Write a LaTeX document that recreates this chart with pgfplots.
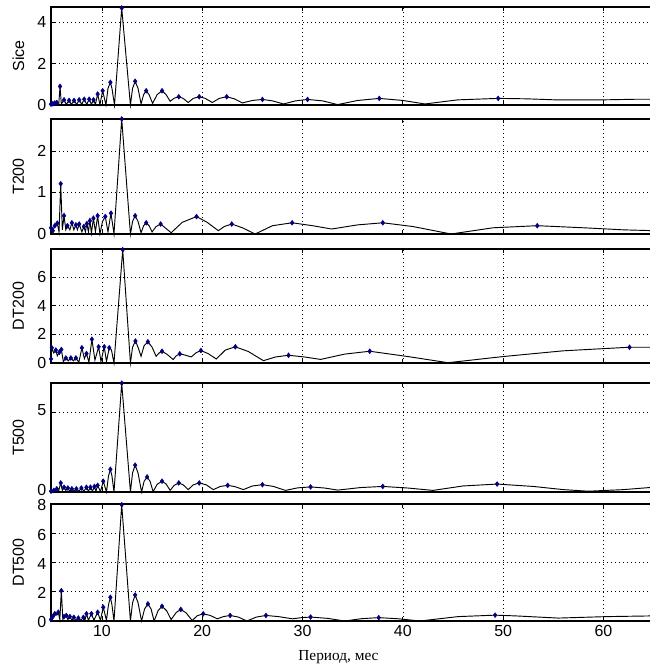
\documentclass[border=0pt]{standalone}
\usepackage{fontspec}
\setmainfont{Liberation Sans}
\newfontfamily\serifrm{Liberation Serif}
\usepackage{pgfplots}
\pgfplotsset{compat=1.18}
\definecolor{mkblue}{RGB}{0,0,128}

\pgfplotsset{
  panel/.style={
    scale only axis,
    width=451.95pt,
    xmin=4.92, xmax=65,
    ymin=0,
    xtick={10,20,30,40,50,60},
    tick align=inside,
    ticklabel style={font=\fontsize{12}{13}\selectfont},
    /pgf/number format/assume math mode=true,
    major tick length=3pt,
    grid=major,
    grid style={black, line width=0.5pt, dash pattern=on 0.6pt off 2.4pt},
    axis line style={line width=0.8pt},
    every tick/.style={black, line width=0.6pt},
    ylabel style={at={(axis description cs:-0.054,0.5)}, anchor=center,
      font=\fontsize{12}{13}\selectfont},
    clip=false,
  },
  curve/.style={black, line width=0.7pt, mark=none},
  peaks/.style={only marks, mark=diamond*, mark size=1.8pt, color=mkblue},
}

\begin{document}
\begin{tikzpicture}

% Sice
\begin{axis}[panel, at={(38.25pt,423pt)}, height=73.5pt,
  ymax=4.75, ytick={0,2,4}, xticklabels={}, ylabel={Sice}]
\addplot[curve] coordinates {
(4.92,0.04)(5.1,0.06)(5.3,0.1)(5.5,0.12)(5.7,0.08)(5.82,0.9)(5.95,0.05)(6.22,0.25)(6.45,0.03)
(6.72,0.22)(6.95,0.03)(7.22,0.22)(7.48,0.03)(7.73,0.25)(7.98,0.03)(8.23,0.28)(8.48,0.03)
(8.73,0.28)(8.95,0.03)(9.16,0.25)(9.35,0.03)(9.57,0.53)(9.8,0.02)(10.07,0.69)(10.4,0)
(10.6,0.8)(10.84,1.1)(11.0,0.8)(11.25,0)(11.97,4.7)(12.84,0)(13.05,0.8)(13.31,1.15)(13.6,0.8)
(13.9,0.05)(14.15,0.5)(14.41,0.69)(14.7,0.5)(15.05,0.08)(15.5,0.5)(15.99,0.69)(16.4,0.5)
(16.8,0.18)(17.2,0.33)(17.66,0.4)(18.1,0.32)(18.6,0.12)(19.1,0.32)(19.7,0.4)(20.3,0.32)
(21.0,0.12)(21.7,0.32)(22.44,0.4)(23.2,0.3)(24.0,0.1)(25.0,0.22)(26.0,0.27)(27.0,0.2)
(28.1,0.05)(29.3,0.2)(30.5,0.27)(32.0,0.2)(33.5,0.02)(35.5,0.22)(37.65,0.32)(40,0.22)
(42.2,0.05)(45.5,0.25)(49.5,0.32)(52.3,0.3)(55.2,0.25)(60.0,0.25)(63.4,0.28)(65,0.28)
};
\addplot[peaks] coordinates {
(4.92,0.04)(5.1,0.06)(5.3,0.1)(5.5,0.12)(5.82,0.9)(6.22,0.25)(6.72,0.22)(7.22,0.22)(7.73,0.25)
(8.23,0.28)(8.73,0.28)(9.16,0.25)(9.57,0.53)(10.07,0.69)(10.84,1.1)(11.97,4.7)(13.31,1.15)
(14.41,0.69)(15.99,0.69)(17.66,0.4)(19.7,0.4)(22.44,0.4)(26.0,0.27)(30.5,0.27)(37.65,0.32)(49.5,0.32)
};
\end{axis}

% T200
\begin{axis}[panel, at={(38.25pt,326.25pt)}, height=86.25pt,
  ymax=2.77, ytick={0,1,2}, xticklabels={}, ylabel={T200}]
\addplot[curve] coordinates {
(4.92,0.15)(5.1,0.08)(5.3,0.2)(5.55,0.26)(5.72,0.05)(5.89,1.21)(6.05,0.1)(6.22,0.44)(6.4,0.1)
(6.56,0.2)(6.8,0.1)(7.0,0.27)(7.2,0.1)(7.4,0.22)(7.55,0.1)(7.73,0.24)(8.0,0.05)(8.2,0.18)
(8.35,0.05)(8.5,0.25)(8.65,0.05)(8.8,0.32)(8.95,0.02)(9.15,0.38)(9.35,0.05)(9.57,0.44)(9.8,0)
(10.05,0.3)(10.33,0.42)(10.6,0.05)(10.9,0.5)(11.2,0)(11.97,2.77)(12.84,0)(13.05,0.3)(13.31,0.44)
(13.6,0.3)(13.9,0.03)(14.15,0.2)(14.41,0.27)(14.7,0.2)(15.0,0.05)(15.4,0.18)(15.85,0.24)
(16.3,0.15)(16.9,0.03)(18.0,0.28)(19.43,0.42)(20.5,0.28)(21.6,0.08)(22.2,0.18)(22.94,0.24)
(24.0,0.15)(25.28,0)(27.0,0.2)(28.96,0.27)(31.0,0.2)(32.9,0.12)(35.5,0.22)(38.0,0.27)
(41.0,0.18)(44.8,0)(49,0.15)(53.4,0.2)(58,0.15)(62,0.1)(65,0.08)
};
\addplot[peaks] coordinates {
(4.92,0.15)(5.1,0.08)(5.3,0.2)(5.55,0.26)(5.89,1.21)(6.22,0.44)(6.56,0.2)(7.0,0.27)(7.4,0.22)
(7.73,0.24)(8.2,0.18)(8.5,0.25)(8.8,0.32)(9.15,0.38)(9.57,0.44)(10.33,0.42)(10.9,0.5)(11.97,2.77)
(13.31,0.44)(14.41,0.27)(15.85,0.24)(19.43,0.42)(22.94,0.24)(28.96,0.27)(38.0,0.27)(53.4,0.2)
};
\end{axis}

% DT200
\begin{axis}[panel, at={(38.25pt,229.5pt)}, height=85.5pt,
  ymax=7.95, ytick={0,2,4,6}, xticklabels={}, ylabel={DT200}]
\addplot[curve] coordinates {
(4.92,0.28)(5.0,1.06)(5.2,0.7)(5.4,0.9)(5.55,0.5)(5.75,0.75)(5.95,0.94)(6.15,0.1)(6.4,0.35)
(6.65,0.15)(6.9,0.35)(7.15,0.15)(7.4,0.35)(7.7,0.05)(8.0,1.06)(8.25,0.3)(8.46,0.66)(8.7,0.05)
(9.0,1.65)(9.3,0.2)(9.67,1.13)(9.9,0.1)(10.23,1.13)(10.45,0.1)(10.73,1.06)(10.95,0.9)(11.2,0)
(12.07,7.9)(12.84,0)(13.05,1.1)(13.34,1.53)(13.6,1.1)(13.9,0.47)(14.2,1.2)(14.58,1.48)(15.0,1.1)
(15.4,0.47)(15.7,0.7)(15.99,0.82)(16.5,0.6)(17.1,0.24)(17.4,0.5)(17.76,0.64)(18.3,0.55)
(18.9,0.42)(19.4,0.72)(19.87,0.87)(20.6,0.65)(21.4,0.28)(22.3,0.9)(23.3,1.13)(24.6,0.8)
(26.1,0.16)(27.3,0.42)(28.6,0.54)(30.2,0.42)(31.8,0.25)(34.2,0.62)(36.7,0.82)(40.5,0.45)
(44.5,0.02)(50,0.45)(56,0.85)(62.6,1.1)(65,1.1)
};
\addplot[peaks] coordinates {
(4.92,0.28)(5.0,1.06)(5.4,0.9)(5.75,0.75)(5.95,0.94)(6.4,0.35)(6.9,0.35)(7.4,0.35)(8.0,1.06)
(8.46,0.66)(9.0,1.65)(9.67,1.13)(10.23,1.13)(10.73,1.06)(12.07,7.9)(13.34,1.53)(14.58,1.48)
(15.99,0.82)(17.76,0.64)(19.87,0.87)(23.3,1.13)(28.6,0.54)(36.7,0.82)(62.6,1.1)
};
\end{axis}

% T500
\begin{axis}[panel, at={(38.25pt,132.75pt)}, height=81.75pt,
  ymax=6.86, ytick={0,5}, xticklabels={}, ylabel={T500},
  yticklabel style={yshift=1.5pt}]
\addplot[curve] coordinates {
(4.92,0.05)(5.2,0.1)(5.5,0.2)(5.7,0.1)(5.89,0.57)(6.05,0.1)(6.22,0.3)(6.4,0.1)(6.6,0.25)
(6.8,0.05)(7.0,0.2)(7.2,0.05)(7.45,0.2)(7.7,0.05)(7.95,0.25)(8.2,0.05)(8.45,0.3)(8.65,0.05)
(8.85,0.3)(9.05,0.05)(9.25,0.35)(9.4,0.05)(9.57,0.42)(9.85,0.02)(10.13,0.68)(10.45,0)
(10.65,1.0)(10.84,1.43)(11.0,1.0)(11.2,0)(11.97,6.85)(12.84,0)(13.05,1.2)(13.31,1.69)
(13.6,1.2)(13.95,0)(14.2,0.67)(14.5,0.95)(14.8,0.67)(15.1,0.02)(15.5,0.48)(15.99,0.68)
(16.4,0.5)(16.8,0.1)(17.2,0.42)(17.66,0.57)(18.1,0.45)(18.6,0.15)(19.1,0.45)(19.7,0.57)
(20.4,0.45)(21.1,0.15)(21.8,0.35)(22.54,0.42)(23.3,0.33)(24.1,0.15)(25.0,0.38)(26.0,0.46)
(27.1,0.35)(28.3,0.1)(29.5,0.26)(30.8,0.32)(32.2,0.25)(33.5,0.12)(35.8,0.28)(38.0,0.35)
(40.5,0.25)(43.0,0.1)(46,0.38)(49.4,0.5)(53,0.35)(56,0.15)(58.5,0.05)(62,0.15)(65,0.3)
};
\addplot[peaks] coordinates {
(4.92,0.05)(5.2,0.1)(5.5,0.2)(5.89,0.57)(6.22,0.3)(6.6,0.25)(7.0,0.2)(7.45,0.2)(7.95,0.25)
(8.45,0.3)(8.85,0.3)(9.25,0.35)(9.57,0.42)(10.13,0.68)(10.84,1.43)(11.97,6.85)(13.31,1.69)
(14.5,0.95)(15.99,0.68)(17.66,0.57)(19.7,0.57)(22.54,0.42)(26.0,0.46)(30.8,0.32)(38.0,0.35)(49.4,0.5)
};
\end{axis}

% DT500
\begin{axis}[panel, at={(38.25pt,36pt)}, height=87.75pt,
  ymax=8, ytick={0,2,4,6,8}, ylabel={DT500},
  yticklabel style={yshift=-1pt},
  xlabel={\serifrm Период, мес},
  xlabel style={at={(axis description cs:0.477,0)}, anchor=center, yshift=-27pt,
    font=\fontsize{11.5}{13}\selectfont}]
\addplot[curve] coordinates {
(4.92,0.1)(5.1,0.3)(5.3,0.5)(5.5,0.4)(5.65,0.6)(5.8,0.1)(5.95,2.07)(6.1,0.1)(6.22,0.3)
(6.45,0.38)(6.6,0.1)(6.8,0.3)(7.0,0.05)(7.2,0.25)(7.4,0.05)(7.65,0.2)(7.9,0.05)(8.15,0.25)
(8.3,0.05)(8.46,0.5)(8.65,0.05)(8.95,0.5)(9.2,0.05)(9.57,0.6)(9.85,0.05)(10.13,0.94)(10.45,0.05)
(10.65,1.1)(10.84,1.62)(11.0,1.1)(11.2,0)(11.97,7.95)(12.84,0)(13.05,1.25)(13.31,1.78)
(13.6,1.25)(13.95,0)(14.25,0.82)(14.58,1.17)(14.9,0.82)(15.2,0)(15.6,0.71)(15.99,1.01)
(16.45,0.7)(16.9,0.1)(17.4,0.58)(17.86,0.79)(18.4,0.55)(19.0,0.03)(19.5,0.36)(20.1,0.49)
(20.8,0.38)(21.5,0.15)(22.1,0.3)(22.78,0.38)(23.6,0.27)(24.45,0)(25.4,0.27)(26.35,0.38)
(27.6,0.3)(29,0.15)(29.9,0.23)(30.8,0.27)(32.5,0.18)(34.2,0)(35.9,0.16)(37.6,0.23)(39.6,0.15)
(41.7,0)(45.5,0.3)(49.2,0.4)(51.2,0.35)(55.5,0.2)(60.3,0.3)(65,0.35)
};
\addplot[peaks] coordinates {
(4.92,0.1)(5.1,0.3)(5.3,0.5)(5.65,0.6)(5.95,2.07)(6.22,0.3)(6.45,0.38)(6.8,0.3)(7.2,0.25)
(7.65,0.2)(8.15,0.25)(8.46,0.5)(8.95,0.5)(9.57,0.6)(10.13,0.94)(10.84,1.62)(11.97,7.95)
(13.31,1.78)(14.58,1.17)(15.99,1.01)(17.86,0.79)(20.1,0.49)(22.78,0.38)(26.35,0.38)(30.8,0.27)
(37.6,0.23)(49.2,0.4)
};
\end{axis}

\pgfresetboundingbox
\useasboundingbox (0,0) rectangle (487.5pt,501.75pt);
\end{tikzpicture}
\end{document}
